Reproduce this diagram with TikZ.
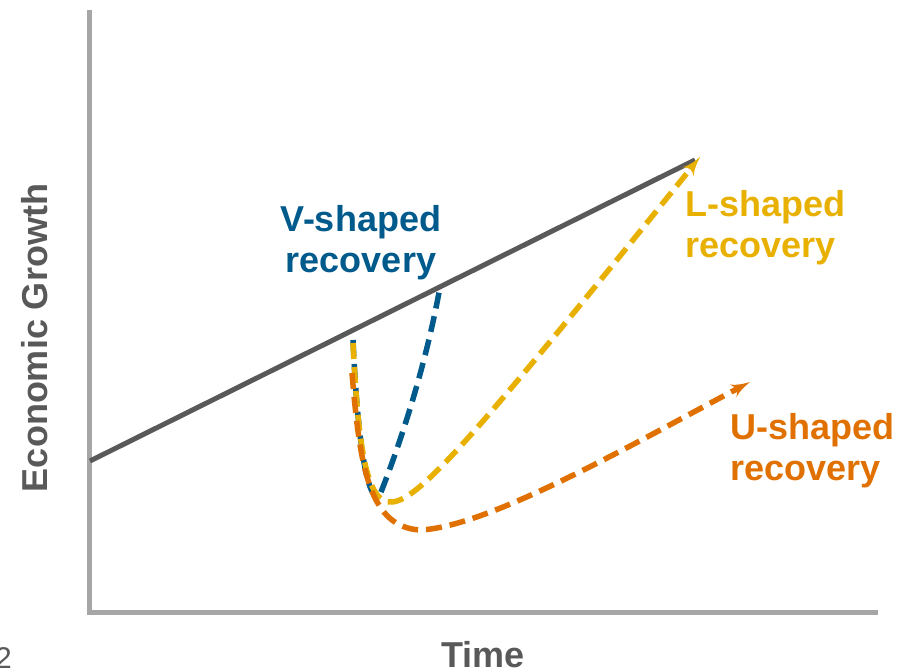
\documentclass[tikz,border=0pt]{standalone}
\usepackage{fontspec}
\setmainfont{Liberation Sans}
\usetikzlibrary{arrows,positioning}
\definecolor{vblue}{HTML}{005A8C}
\definecolor{lyellow}{HTML}{E8B000}
\definecolor{uorange}{HTML}{E07000}
\definecolor{trendgray}{HTML}{595959}
\definecolor{axisgray}{HTML}{A6A6A6}

\begin{document}
\begin{tikzpicture}[x=1pt, y=-1pt, >=latex',
    axis/.style={draw=axisgray, line width=5pt},
    trend/.style={draw=trendgray, line width=5pt},
    rec/.style={line width=5.5pt, dash pattern=on 16pt off 8pt},
    lbl/.style={font=\fontsize{36}{41}\selectfont\bfseries, inner sep=0pt}]
    \useasboundingbox (0,0) rectangle (916,672);
    % axes
    \coordinate (top) at (89,10);
    \coordinate (origin) at (89,612);
    \coordinate (right) at (878,612);
    \draw [axis] (top) -- (origin) -- (right);
    \node [lbl, rotate=90, anchor=base, text=trendgray] (ylab) at (47,338) {Economic Growth};
    \node [lbl, anchor=base, text=trendgray] (xlab) at (483,667) {Time};
    \node [font=\fontsize{30}{30}\selectfont, anchor=base east, inner sep=0pt, text=trendgray] (pg) at (12,668) {2};
    % trend
    \coordinate (t0) at (90,461);
    \coordinate (t1) at (695,160);
    \draw [trend] (t0) -- (t1);
    % recoveries
    \coordinate (vstart) at (353,340);
    \coordinate (vlow) at (379,497);
    \coordinate (vend) at (440,287);
    \draw [rec, draw=vblue] (vstart) .. controls (358,450) and (368,500) .. (vlow)
        .. controls (398,450) and (425,370) .. (vend);
    \coordinate (lstart) at (353,343);
    \coordinate (llow) at (392,502);
    \coordinate (lend) at (700,157);
    \draw [rec, draw=lyellow, ->] (lstart) .. controls (358,440) and (365,505) .. (llow)
        .. controls (420,500) and (480,430) .. (lend);
    \coordinate (ustart) at (352,373);
    \coordinate (ulow) at (420,530);
    \coordinate (uend) at (750,382);
    \draw [rec, draw=uorange, ->] (ustart) .. controls (360,470) and (370,527) .. (ulow)
        .. controls (490,527) and (640,440) .. (uend);
    % labels
    \node [lbl, align=center, text=vblue, anchor=north] (vlab) at (361,205) {V-shaped\\recovery};
    \node [lbl, align=left, text=lyellow, anchor=north west] (llab) at (685,190) {L-shaped\\recovery};
    \node [lbl, align=left, text=uorange, anchor=north west] (ulab) at (730,413) {U-shaped\\recovery};
\end{tikzpicture}
\end{document}
